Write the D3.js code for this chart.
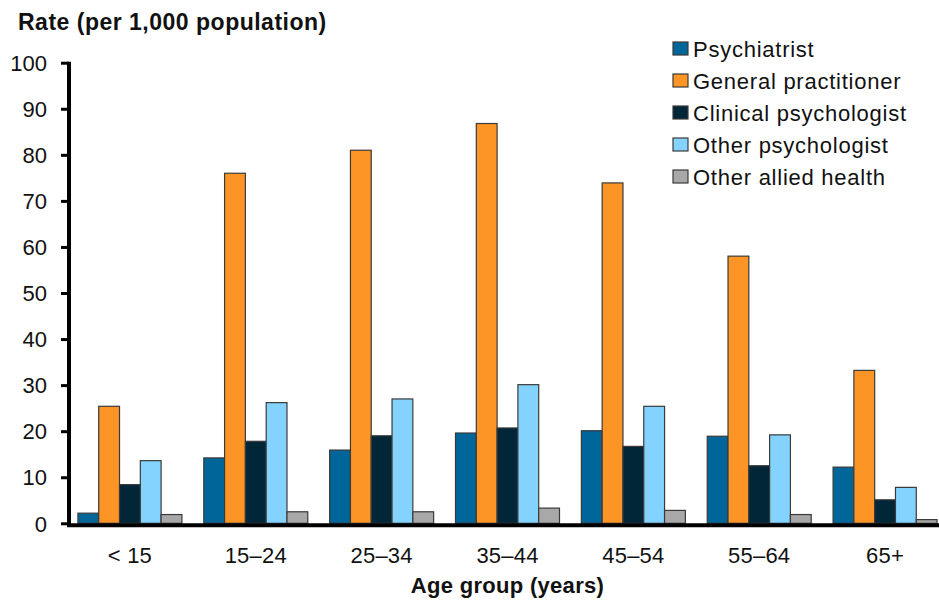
<!DOCTYPE html>
<html>
<head>
<meta charset="utf-8">
<script src="https://cdn.jsdelivr.net/npm/d3@7"></script>
<style>
  body { margin:0; background:#fff; }
  svg { display:block; font-family:"Liberation Sans", Arial, sans-serif; }
</style>
</head>
<body>
<svg id="chart" width="939" height="603"></svg>
<script>
'use strict';
const ageGroups = ['< 15','15–24','25–34','35–44','45–54','55–64','65+'];
const seriesNames = ['Psychiatrist','General practitioner','Clinical psychologist','Other psychologist','Other allied health'];
const seriesColors = ['#00669a','#fd9426','#002638','#84d3ff','#a8a8a8'];
const psychiatrist = [2.2, 14.2, 15.9, 19.6, 20.1, 18.9, 12.2];
const generalPractitioner = [25.4, 76.0, 81.0, 86.8, 73.9, 58.0, 33.2];
const clinicalPsychologist = [8.4, 17.8, 19.0, 20.7, 16.7, 12.5, 5.1];
const otherPsychologist = [13.6, 26.2, 27.0, 30.1, 25.4, 19.2, 7.8];
const otherAlliedHealth = [1.9, 2.5, 2.5, 3.3, 2.8, 1.9, 0.8];
const yTicks = [0,10,20,30,40,50,60,70,80,90,100];

const seriesValues = [psychiatrist, generalPractitioner, clinicalPsychologist, otherPsychologist, otherAlliedHealth];
const rows = ageGroups.map((g, i) => ({ group:g, values: seriesValues.map((s, k) => ({ key:k, value:s[i] })) }));

const svg = d3.select('#chart');
const x0 = d3.scaleBand().domain(ageGroups).range([67, 948]).paddingInner(0.1737).paddingOuter(0.0868);
const x1 = d3.scaleBand().domain(d3.range(seriesNames.length)).range([0, x0.bandwidth()]);
const y = d3.scaleLinear().domain([0, 100]).range([523.3, 62.7]);

// bars
svg.append('g').selectAll('g').data(rows).join('g')
  .attr('transform', d => `translate(${x0(d.group)},0)`)
  .selectAll('rect').data(d => d.values).join('rect')
  .attr('x', d => x1(d.key)).attr('width', x1.bandwidth())
  .attr('y', d => y(d.value)).attr('height', d => y(0) - y(d.value))
  .attr('fill', d => seriesColors[d.key]).attr('stroke', '#3a3a3a').attr('stroke-width', 1.2);

// y axis
const yAxis = svg.append('g').attr('transform', 'translate(69,0)')
  .call(d3.axisLeft(y).tickValues(yTicks).tickSize(8).tickPadding(14).tickFormat(d3.format('d')));
yAxis.select('.domain').attr('stroke', '#000').attr('stroke-width', 4).attr('d', `M0,${y(100)-1}V${y(0)+2}`);
yAxis.selectAll('.tick line').attr('stroke', '#000').attr('stroke-width', 3);
yAxis.selectAll('.tick text').attr('fill', '#111').style('font-size', '22px').attr('dy', '0.35em');

// x baseline and labels
const xAxis = svg.append('g').attr('transform', `translate(0,${y(0)})`)
  .call(d3.axisBottom(x0).tickSize(0).tickPadding(24));
xAxis.select('.domain').attr('stroke', '#000').attr('stroke-width', 4).attr('d', `M67,2H939`);
xAxis.selectAll('.tick text').attr('fill', '#111').style('font-size', '22px').style('letter-spacing', '0.2px');

// titles
svg.append('text').attr('x', 18).attr('y', 30).attr('fill', '#111')
  .style('font-size', '23px').style('font-weight', 'bold').style('letter-spacing', '0.5px')
  .text('Rate (per 1,000 population)');
svg.append('text').attr('x', (67 + 948) / 2).attr('y', 593).attr('text-anchor', 'middle').attr('fill', '#111')
  .style('font-size', '22px').style('font-weight', 'bold').style('letter-spacing', '0.3px')
  .text('Age group (years)');

// legend
const legend = svg.append('g').selectAll('g').data(seriesNames).join('g')
  .attr('transform', (d, i) => `translate(673,${49 + i * 32})`);
legend.append('rect').attr('x', 0).attr('y', -7).attr('width', 15).attr('height', 13)
  .attr('fill', (d, i) => seriesColors[i]).attr('stroke', '#3a3a3a').attr('stroke-width', 1.2);
legend.append('text').attr('x', 20).attr('y', 0).attr('dy', '0.35em').attr('fill', '#111')
  .style('font-size', '22px').style('letter-spacing', '0.75px').text(d => d);
</script>
</body>
</html>
